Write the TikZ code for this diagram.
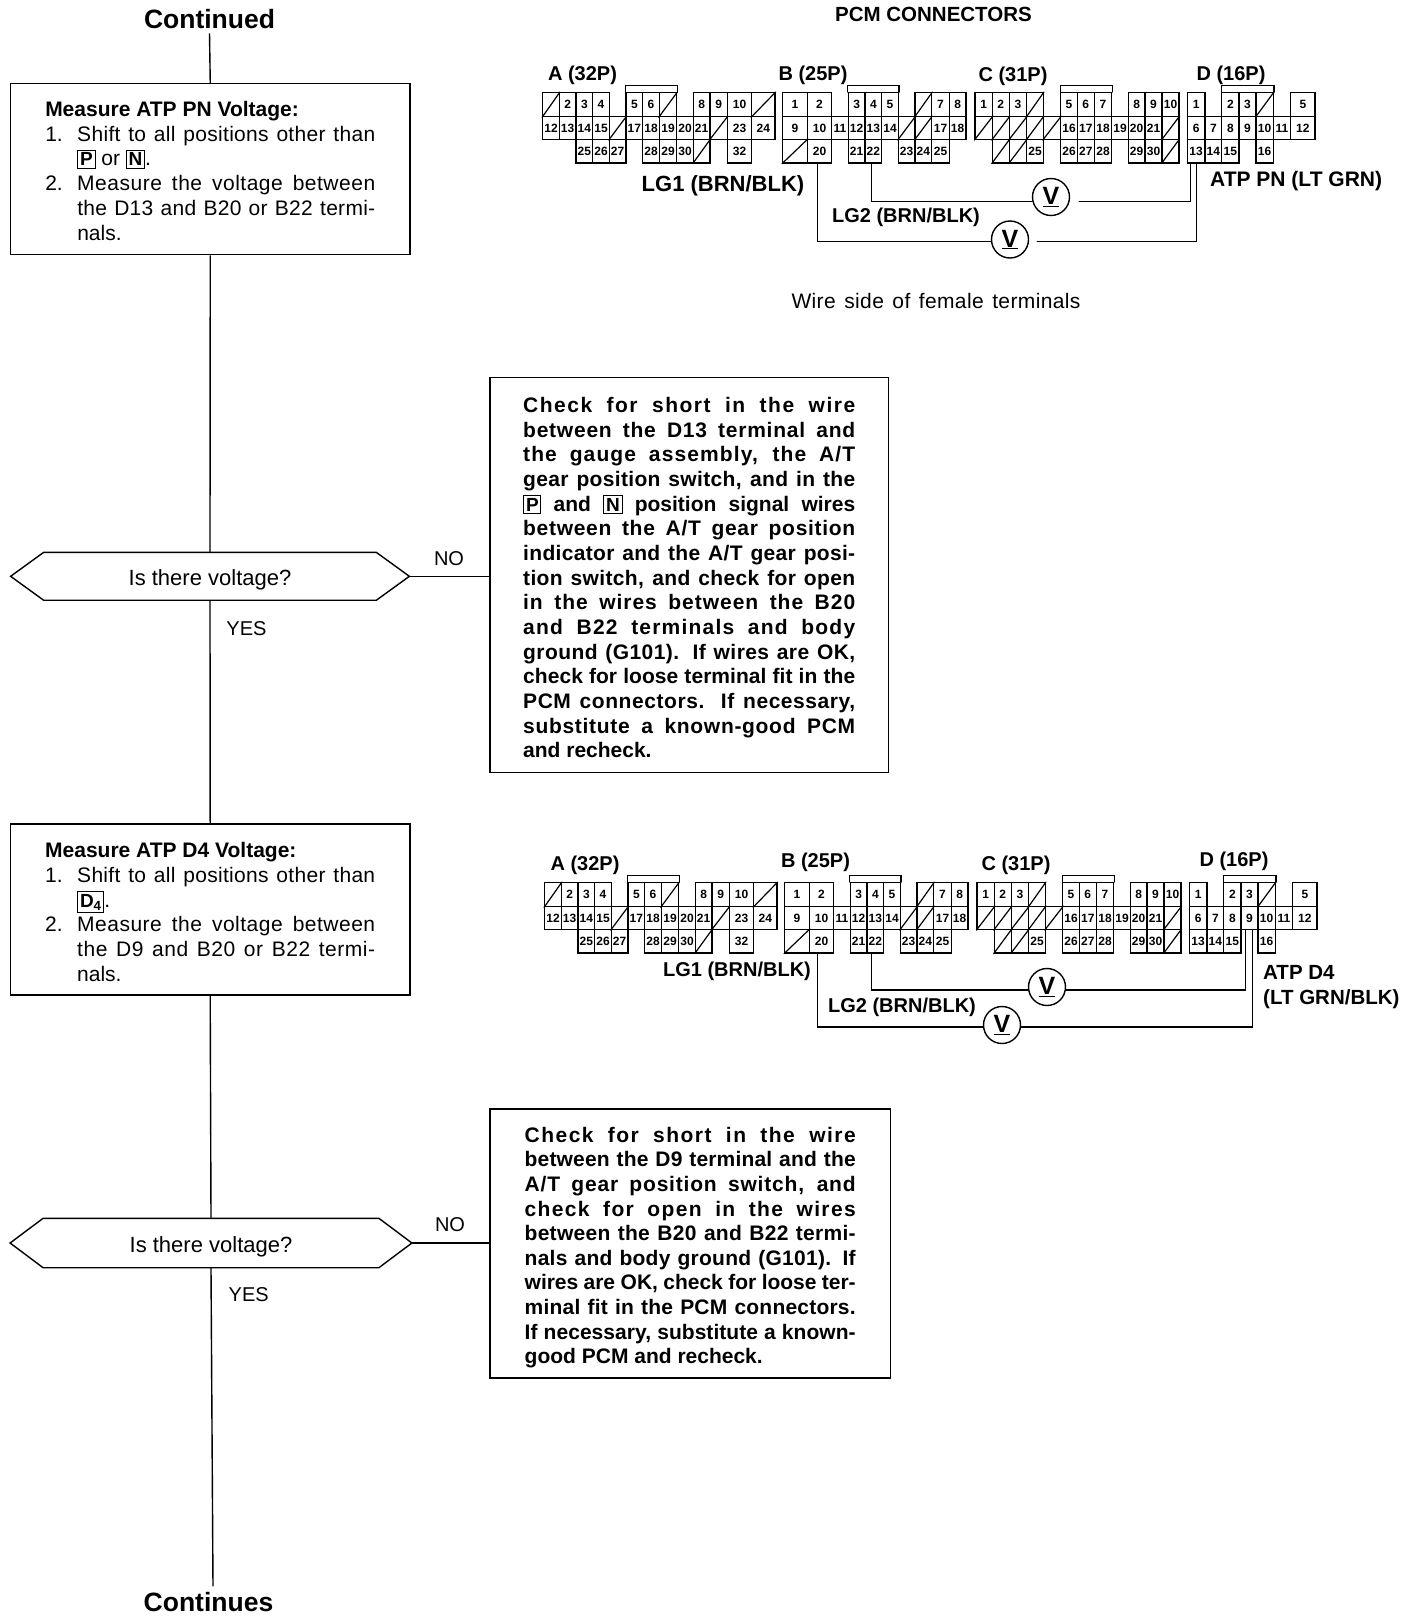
\documentclass[tikz,border=0pt]{standalone}
\usepackage{fontspec}
\setmainfont{Liberation Sans}
\ExplSyntaxOn
\NewDocumentCommand{\jl}{ m m }{
  \hbox_set:Nn \l_tmpa_box { #2 }
  \dim_set:Nn \l_tmpa_dim { #1 - \box_wd:N \l_tmpa_box }
  \hbox_to_wd:nn { #1 } {
    \use:x { \exp_not:N \addfontfeature { LetterSpace = \fp_eval:n { round( 0.6 * \dim_to_fp:n{\l_tmpa_dim} / \str_count:n{#2} / \dim_to_fp:n{1em} * 100 , 2) } } }
    \spaceskip=.28em plus 1fil minus .1em\relax
    #2
  }
}
\ExplSyntaxOff
\newcommand{\jlraw}[2]{\hbox to #1{\spaceskip=.28em plus 1fil minus .1em\relax #2}}
\newcommand{\gear}[1]{{\fboxsep=1.8pt\fboxrule=1pt\fbox{\bfseries\fontsize{19}{19}\selectfont #1}}}
\newcommand{\mystep}[2]{\hbox to 330pt{\hbox to 32pt{#1\hss}#2}}
\newcommand{\mytail}[1]{\hbox to 330pt{\hskip 32pt #1\hss}}
\newcommand{\myhead}[1]{\hbox to 330pt{\bfseries #1\hss}}
\newcommand{\cells}[4]{\foreach \xa/\xb/\lab in {#4}{\node[cellbox,minimum width={(\xb-\xa)*1pt},minimum height={(#3-#2)*1pt}] (#1-\lab) at ({(\xa+\xb)/2},{(#2+#3)/2}) {\lab};}}
\newcommand{\slashes}[4]{\foreach \xa/\xb/\lab in {#4}{\node[cellbox,minimum width={(\xb-\xa)*1pt},minimum height={(#3-#2)*1pt}] (#1-\lab) at ({(\xa+\xb)/2},{(#2+#3)/2}) {};\draw[conn] (#1-\lab.south west) -- (#1-\lab.north east);}}
\def\ra{92.7}\def\rb{116.7}\def\rc{139.5}\def\rd{163}
\newcommand{\pcm}[3]{%
\begin{scope}[shift={(#2,#3)}]
% A
\slashes{#1A}{\ra}{\rb}{542.7/559.3/s1,659.3/676.7/s2,751.7/775/s3}
\cells{#1A}{\ra}{\rb}{559.3/576/2,576/592.7/3,592.7/609.3/4,626/642.7/5,642.7/659.3/6,693.3/710/8,710/727.3/9,727.3/751.7/10}
\cells{#1A}{\rb}{\rc}{542.7/559.3/12,559.3/576/13,576/592.7/14,592.7/609.3/15,626/642.7/17,642.7/659.3/18,659.3/676.7/19,676.7/693.3/20,693.3/710/21,727.3/751.7/23,751.7/775/24}
\slashes{#1A}{\rb}{\rc}{609.3/626/s4,710/727.3/s5}
\cells{#1A}{\rc}{\rd}{576/592.7/25,592.7/609.3/26,609.3/626/27,642.7/659.3/28,659.3/676.7/29,676.7/693.3/30,727.3/751.7/32}
\slashes{#1A}{\rc}{\rd}{693.3/710/s6}
\draw[conn] (#1A-5.north west) -- ([yshift=6.7pt]#1A-5.north west) -| (#1A-s2.north east);
% B
\cells{#1B}{\ra}{\rb}{782.7/807.3/1,807.3/831.7/2,848.3/865/3,865/881.7/4,881.7/898.3/5,931.7/949.3/7,949.3/966/8}
\slashes{#1B}{\ra}{\rb}{915/931.7/s1}
\cells{#1B}{\rb}{\rc}{782.7/807.3/9,807.3/831.7/10,831.7/848.3/11,848.3/865/12,865/881.7/13,881.7/898.3/14,931.7/949.3/17,949.3/966/18}
\slashes{#1B}{\rb}{\rc}{898.3/915/s2,915/931.7/s3}
\cells{#1B}{\rc}{\rd}{807.3/831.7/20,848.3/865/21,865/881.7/22,898.3/915/23,915/931.7/24,931.7/949.3/25}
\slashes{#1B}{\rc}{\rd}{782.7/807.3/s4}
\draw[conn] (#1B-3.north west) -- ([yshift=6.7pt]#1B-3.north west) -| (#1B-5.north east);
% C
\cells{#1C}{\ra}{\rb}{975/992.3/1,992.3/1009.3/2,1009.3/1026.7/3,1060.7/1077.3/5,1077.3/1094.3/6,1094.3/1111.7/7,1128.3/1145/8,1145/1162/9,1162/1179/10}
\slashes{#1C}{\ra}{\rb}{1026.7/1043.3/s1}
\slashes{#1C}{\rb}{\rc}{975/992.3/s2,992.3/1009.3/s3,1009.3/1026.7/s4,1026.7/1043.3/s5,1043.3/1060.7/s6,1162/1179/s7}
\cells{#1C}{\rb}{\rc}{1060.7/1077.3/16,1077.3/1094.3/17,1094.3/1111.7/18,1111.7/1128.3/19,1128.3/1145/20,1145/1162/21}
\slashes{#1C}{\rc}{\rd}{992.3/1009.3/s8,1009.3/1026.7/s9,1162/1179/s10}
\cells{#1C}{\rc}{\rd}{1026.7/1043.3/25,1060.7/1077.3/26,1077.3/1094.3/27,1094.3/1111.7/28,1128.3/1145/29,1145/1162/30}
\draw[conn] (#1C-5.north west) -- ([yshift=6.7pt]#1C-5.north west) -| (#1C-7.north east);
% D
\cells{#1D}{\ra}{\rb}{1187.3/1205/1,1221.7/1239/2,1239/1256/3,1290.7/1315/5}
\slashes{#1D}{\ra}{\rb}{1256/1273.3/s1}
\cells{#1D}{\rb}{\rc}{1187.3/1205/6,1205/1221.7/7,1221.7/1239/8,1239/1256/9,1256/1273.3/10,1273.3/1290.7/11,1290.7/1315/12}
\cells{#1D}{\rc}{\rd}{1187.3/1205/13,1205/1221.7/14,1221.7/1239/15,1256/1273.3/16}
\draw[conn] (#1D-2.north west) -- ([yshift=6.7pt]#1D-2.north west) -| (#1D-s1.north east);
\end{scope}}
\newcommand{\hexa}[1]{\draw[flow] (#1.west) -- ([xshift=33pt]#1.north west) -- ([xshift=-33pt]#1.north east) -- (#1.east) -- ([xshift=-33pt]#1.south east) -- ([xshift=33pt]#1.south west) -- cycle;}
\tikzset{
  conn/.style={line width=1.2pt,line cap=round},
  flow/.style={line width=1.4pt},
  cellbox/.style={draw,line width=1.2pt,inner sep=0pt,font=\bfseries\fontsize{12}{12}\selectfont},
  procbox/.style={draw,line width=1.5pt,inner sep=0pt,font=\fontsize{21}{24.7}\selectfont},
  checkbox/.style={draw,line width=1.5pt,inner sep=0pt,font=\bfseries\fontsize{21}{24.7}\selectfont},
  hexbox/.style={inner sep=0pt,font=\fontsize{22}{24}\selectfont},
  lbl/.style={inner sep=0pt,font=\fontsize{20}{24}\selectfont},
  blbl/.style={inner sep=0pt,font=\bfseries\fontsize{20}{25}\selectfont},
  endlabel/.style={inner sep=0pt,font=\bfseries\fontsize{26.5}{30}\selectfont},
  meter/.style={circle,draw,line width=1.4pt,inner sep=0pt,minimum size=37pt,font=\bfseries\fontsize{25}{25}\selectfont},
}
\begin{document}
\begin{tikzpicture}[x=1pt,y=-1pt]
\useasboundingbox (0,0) rectangle (1408,1618);
\fill[white] (0,0) rectangle (1408,1618);
% terminal labels
\node[endlabel,anchor=base] (cont) at (209.5,28.3) {Continued};
\node[endlabel,anchor=base] (cont2) at (208.5,1611.7) {Continues};
% process boxes
\node[procbox,minimum width=399.5pt,minimum height=171pt] (box1) at (210.25,169) {\vbox{\vskip 3.5pt\baselineskip=24.8pt\lineskiplimit=-100pt
 \myhead{Measure ATP PN Voltage:}
 \mystep{1.}{\jl{298pt}{Shift to all positions other than}}
 \mytail{\gear{P} or \gear{N}.}
 \mystep{2.}{\jl{298pt}{Measure the voltage between}}
 \mytail{\jl{298pt}{the D13 and B20 or B22 termi-}}
 \mytail{nals.}}};
\node[procbox,minimum width=399.7pt,minimum height=171pt] (box2) at (210.2,909.5) {\vbox{\vskip 5pt\baselineskip=24.9pt\lineskiplimit=-100pt
 \myhead{Measure ATP D4 Voltage:}
 \mystep{1.}{\jl{298pt}{Shift to all positions other than}}
 \mytail{\gear{D\textsubscript{4}}.}
 \mystep{2.}{\jl{298pt}{Measure the voltage between}}
 \mytail{\jl{298pt}{the D9 and B20 or B22 termi-}}
 \mytail{nals.}}};
% decisions
\node[hexbox,minimum width=398.3pt,minimum height=47.5pt] (q1) at (210,576.3) {\vbox{\vskip 7pt\hbox{Is there voltage?}}};
\hexa{q1}
\node[hexbox,minimum width=401.4pt,minimum height=49pt] (q2) at (211,1243) {\vbox{\vskip 7pt\hbox{Is there voltage?}}};
\hexa{q2}
% check boxes
\node[checkbox,minimum width=398.5pt,minimum height=395.2pt] (chk1) at (689.2,575.1) {\vbox{\vskip 5pt\baselineskip=24.65pt\lineskiplimit=-100pt
 \jl{332pt}{Check for short in the wire}
 \jl{332pt}{between the D13 terminal and}
 \jl{332pt}{the gauge assembly, the A/T}
 \jl{332pt}{gear position switch, and in the}
 \jlraw{332pt}{\gear{P} and \gear{N} position signal wires}
 \jl{332pt}{between the A/T gear position}
 \jl{332pt}{indicator and the A/T gear posi-}
 \jl{332pt}{tion switch, and check for open}
 \jl{332pt}{in the wires between the B20}
 \jl{332pt}{and B22 terminals and body}
 \jl{332pt}{ground (G101). If wires are OK,}
 \jl{332pt}{check for loose terminal fit in the}
 \jl{332pt}{PCM connectors. If necessary,}
 \jl{332pt}{substitute a known-good PCM}
 \hbox to 332pt{and recheck.\hss}}};
\node[checkbox,minimum width=400.5pt,minimum height=269pt] (chk2) at (690.2,1243.5) {\vbox{\vskip 8pt\baselineskip=24.6pt\lineskiplimit=-100pt
 \jl{331pt}{Check for short in the wire}
 \jl{331pt}{between the D9 terminal and the}
 \jl{331pt}{A/T gear position switch, and}
 \jl{331pt}{check for open in the wires}
 \jl{331pt}{between the B20 and B22 termi-}
 \jl{331pt}{nals and body ground (G101). If}
 \jl{331pt}{wires are OK, check for loose ter-}
 \jl{331pt}{minal fit in the PCM connectors.}
 \jl{331pt}{If necessary, substitute a known-}
 \hbox to 331pt{good PCM and recheck.\hss}}};
% flow labels
\node[lbl] (no1) at (449,559) {NO};
\node[lbl] (yes1) at (246.5,628.5) {YES};
\node[lbl] (no2) at (450,1225) {NO};
\node[lbl] (yes2) at (248.7,1295) {YES};
% flow lines
\draw[flow] ([yshift=-5pt]cont.base) -- (box1.north);
\draw[flow] (box1.south) -- (q1.north);
\draw[flow] (q1.south) -- (box2.north);
\draw[flow] (box2.south) -- (q2.north);
\draw[flow] (q2.south) -- ([xshift=4.5pt,yshift=6pt]cont2.north);
\draw[flow] (q1.east) -- (q1.east -| chk1.west);
\draw[flow] (q2.east) -- (q2.east -| chk2.west);
% connectors
\pcm{p}{0}{0}
\pcm{s}{2}{790}
\node[inner sep=0pt,font=\bfseries\fontsize{20.5}{25}\selectfont,anchor=base] (title) at (933.5,21) {PCM CONNECTORS};
\node[blbl,anchor=base] (la) at (582.5,80.5) {A (32P)};
\node[blbl,anchor=base] (lb) at (813,80) {B (25P)};
\node[blbl,anchor=base] (lc) at (1013,81) {C (31P)};
\node[blbl,anchor=base] (ld) at (1231,80) {D (16P)};
\node[blbl,anchor=base] (la2) at (585,870.5) {A (32P)};
\node[blbl,anchor=base] (lb2) at (815.5,867.5) {B (25P)};
\node[blbl,anchor=base] (lc2) at (1016,870.5) {C (31P)};
\node[blbl,anchor=base] (ld2) at (1234,866.5) {D (16P)};
\node[inner sep=0pt,font=\bfseries\fontsize{22}{25}\selectfont] (lg1) at (723,186) {LG1 (BRN/BLK)};
\node[inner sep=0pt,font=\bfseries\fontsize{20}{25}\selectfont] (lg2) at (906,217.5) {LG2 (BRN/BLK)};
\node[inner sep=0pt,font=\bfseries\fontsize{21}{25}\selectfont,anchor=base west] (atp1) at (1210,186) {ATP PN (LT GRN)};
\node[inner sep=0pt,font=\fontsize{21}{25}\selectfont] (wside) at (936,301) {\jl{289pt}{Wire side of female terminals}};
\node[inner sep=0pt,font=\bfseries\fontsize{20}{25}\selectfont] (lg1b) at (737,971) {LG1 (BRN/BLK)};
\node[inner sep=0pt,font=\bfseries\fontsize{20}{25}\selectfont] (lg2b) at (902,1007) {LG2 (BRN/BLK)};
\node[inner sep=0pt,font=\bfseries\fontsize{20.5}{25}\selectfont,align=left,anchor=north west] (atp2) at (1263,965.5) {ATP D4\\(LT GRN/BLK)};
% meters
\node[meter] (v1) at (1051,197) {\underbar{V}};
\node[meter] (v2) at (1010,239.5) {\underbar{V}};
\node[meter] (v3) at (1047,987) {\underbar{V}};
\node[meter] (v4) at (1002,1025) {\underbar{V}};
% wires
\draw[conn] ([xshift=-1.6pt]pB-22.south) |- ([yshift=-4.7pt]v1.west);
\draw[conn] ([xshift=9pt,yshift=-4.7pt]v1.east) -| ([xshift=-6pt]pD-13.south);
\draw[conn] ([xshift=-2.2pt]pB-20.south) |- ([yshift=-2.2pt]v2.west);
\draw[conn] ([xshift=8pt,yshift=-2.2pt]v2.east) -| (pD-13.south);
\draw[conn] ([xshift=-3.6pt]sB-22.south) |- ([yshift=-3pt]v3.west);
\draw[conn] ([yshift=-3pt]v3.east) -| ([xshift=-4pt]sD-9.south);
\draw[conn] ([xshift=-4.2pt]sB-20.south) |- ([yshift=-2pt]v4.west);
\draw[conn] ([yshift=-2pt]v4.east) -| ([xshift=3pt]sD-9.south);
\end{tikzpicture}
\end{document}
